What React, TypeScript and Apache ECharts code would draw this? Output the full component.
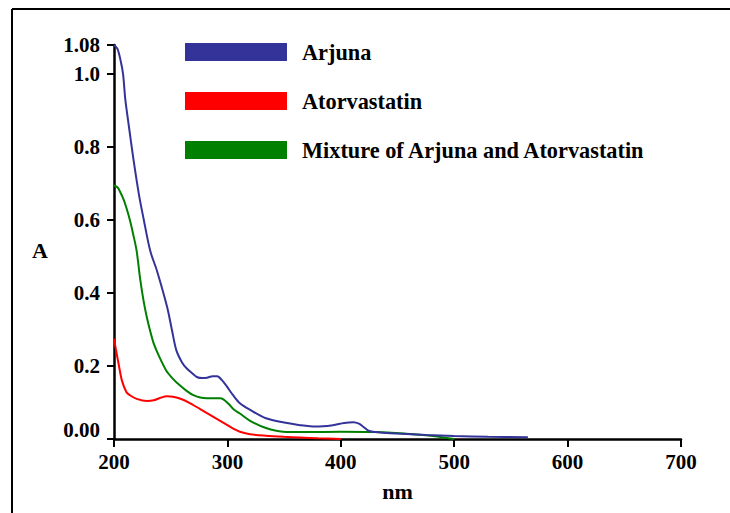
import React, { useEffect, useRef } from "react";
import * as echarts from "echarts";

const seriesNames = ["Arjuna", "Atorvastatin", "Mixture of Arjuna and Atorvastatin"];
const seriesColors = ["#333399", "#ff0000", "#008000"];

const arjunaNm = [200, 203, 206, 208, 210, 213, 217, 222, 226, 232, 238, 247, 251, 255, 260, 264, 269, 273, 278, 282, 287, 291, 295, 300, 305, 311, 320, 334, 350, 364, 378, 393, 403, 411, 416, 420, 425, 435, 450, 475, 500, 530, 565];
const arjunaA = [1.08, 1.07, 1.035, 1.0, 0.93, 0.86, 0.77, 0.67, 0.605, 0.515, 0.46, 0.36, 0.3, 0.243, 0.21, 0.194, 0.18, 0.17, 0.167, 0.168, 0.172, 0.172, 0.162, 0.142, 0.12, 0.098, 0.08, 0.057, 0.045, 0.038, 0.034, 0.038, 0.044, 0.046, 0.042, 0.033, 0.022, 0.018, 0.015, 0.011, 0.008, 0.006, 0.005];

const atorNm = [200, 202, 204, 207, 211, 214, 220, 229, 235, 241, 247, 252, 258, 266, 276, 288, 300, 306, 311, 320, 334, 350, 364, 380, 400];
const atorA = [0.275, 0.24, 0.207, 0.16, 0.128, 0.12, 0.11, 0.104, 0.106, 0.113, 0.117, 0.116, 0.111, 0.1, 0.082, 0.06, 0.038, 0.027, 0.02, 0.013, 0.009, 0.006, 0.004, 0.002, 0.0];

const mixNm = [200, 203, 205, 208, 211, 214, 217, 220, 223, 226, 229, 232, 235, 240, 246, 252, 258, 264, 270, 276, 282, 288, 294, 298, 302, 306, 311, 320, 334, 349, 370, 400, 430, 452, 475, 500];
const mixA = [0.695, 0.69, 0.68, 0.66, 0.633, 0.6, 0.56, 0.515, 0.44, 0.38, 0.333, 0.295, 0.262, 0.225, 0.188, 0.165, 0.147, 0.132, 0.12, 0.114, 0.112, 0.112, 0.112, 0.105, 0.093, 0.08, 0.07, 0.05, 0.03, 0.02, 0.019, 0.02, 0.019, 0.016, 0.01, 0.0];

const xMin = 200;
const xMax = 700;
const xInterval = 100;
const yMin = 0;
const yMax = 1.08;
const yInterval = 0.2;

const FONT = "'Liberation Serif', 'Times New Roman', serif";

function pairs(xs: number[], ys: number[]) {
  return xs.map((x, i) => [x, ys[i]]);
}

export default function App() {
  const ref = useRef<HTMLDivElement>(null);
  useEffect(() => {
    document.body.style.margin = "0";
    if (!ref.current) return;
    const chart = echarts.init(ref.current, null, { renderer: "svg" });
    const data = [pairs(arjunaNm, arjunaA), pairs(atorNm, atorA), pairs(mixNm, mixA)];
    const labelStyle = { fontFamily: FONT, fontWeight: "bold" as const, fontSize: 21, color: "#000" };
    chart.setOption({
      animation: false,
      backgroundColor: "#fff",
      graphic: [
        { type: "line", shape: { x1: 12, y1: 9, x2: 730, y2: 9 }, style: { stroke: "#000", lineWidth: 2 } },
        { type: "line", shape: { x1: 12, y1: 9, x2: 12, y2: 513 }, style: { stroke: "#000", lineWidth: 2 } },
      ],
      legend: {
        orient: "vertical",
        left: 185,
        top: 41,
        padding: 0,
        itemWidth: 102,
        itemHeight: 18,
        itemGap: 27,
        icon: "rect",
        data: seriesNames,
        textStyle: { ...labelStyle, fontSize: 22.3, padding: [0, 0, 0, 10] },
      },
      grid: { left: 114, right: 49, top: 45, bottom: 74, containLabel: false },
      xAxis: {
        type: "value",
        min: xMin,
        max: xMax,
        interval: xInterval,
        name: "nm",
        nameLocation: "middle",
        nameGap: 41,
        nameTextStyle: { ...labelStyle, fontSize: 22 },
        axisLine: { lineStyle: { color: "#000", width: 2.5 } },
        axisTick: { length: 8, lineStyle: { color: "#000", width: 2 } },
        axisLabel: { ...labelStyle, margin: 12 },
        splitLine: { show: false },
      },
      yAxis: {
        type: "value",
        min: yMin,
        max: yMax,
        interval: yInterval,
        name: "A",
        nameLocation: "middle",
        nameRotate: 0,
        nameGap: 66,
        nameTextStyle: { ...labelStyle, fontSize: 22, verticalAlign: "top", lineHeight: 16 },
        axisLine: { lineStyle: { color: "#000", width: 2.5 } },
        axisTick: { length: 7, lineStyle: { color: "#000", width: 2 } },
        axisLabel: {
          ...labelStyle,
          margin: 14,
          showMaxLabel: true,
          formatter: (v: number) => {
            if (v === 0) return "{z|0.00}";
            if (Math.abs(v - yMax) < 1e-6) return yMax.toFixed(2);
            return v.toFixed(1);
          },
          rich: { z: { ...labelStyle, padding: [0, 0, 18, 0] } },
        },
        splitLine: { show: false },
      },
      series: seriesNames.map((name, i) => ({
        name,
        type: "line",
        data: data[i],
        smooth: 0.3,
        showSymbol: false,
        symbol: "none",
        color: seriesColors[i],
        lineStyle: { color: seriesColors[i], width: 2 },
        itemStyle: { color: seriesColors[i] },
        z: 3 - i,
      })),
    });
    return () => chart.dispose();
  }, []);
  return <div ref={ref} style={{ width: 730, height: 513 }} />;
}
